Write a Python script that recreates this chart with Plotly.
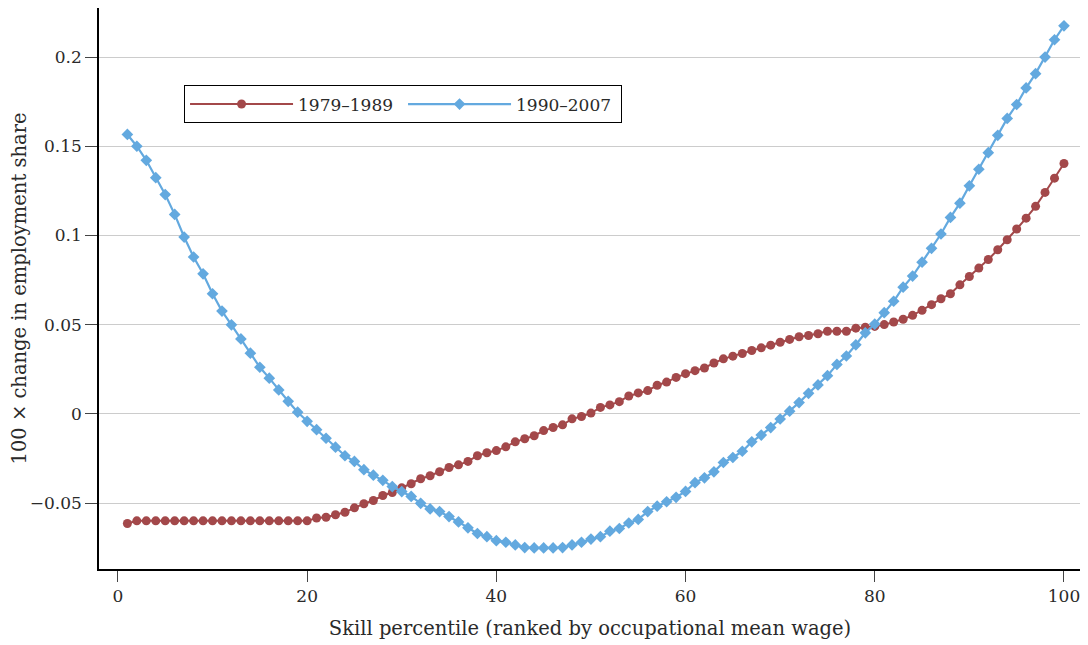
import plotly.graph_objects as go

# Skill percentiles
percentile = list(range(1, 101))

# 100 x change in employment share, 1979-1989
chg_1979_1989 = [
    -0.0615, -0.0600, -0.0600, -0.0600, -0.0600, -0.0600, -0.0600, -0.0600, -0.0600, -0.0600,
    -0.0600, -0.0600, -0.0600, -0.0600, -0.0600, -0.0600, -0.0600, -0.0600, -0.0600, -0.0600,
    -0.0584, -0.0580, -0.0566, -0.0552, -0.0527, -0.0504, -0.0486, -0.0458, -0.0441, -0.0415,
    -0.0392, -0.0364, -0.0347, -0.0325, -0.0301, -0.0286, -0.0267, -0.0235, -0.0218, -0.0206,
    -0.0185, -0.0157, -0.0140, -0.0123, -0.0094, -0.0077, -0.0062, -0.0028, -0.0015, 0.0004,
    0.0036, 0.0050, 0.0068, 0.0100, 0.0117, 0.0130, 0.0160, 0.0178, 0.0204, 0.0225,
    0.0242, 0.0257, 0.0285, 0.0308, 0.0323, 0.0338, 0.0355, 0.0370, 0.0385, 0.0401,
    0.0417, 0.0432, 0.0439, 0.0449, 0.0463, 0.0463, 0.0463, 0.0480, 0.0485, 0.0490,
    0.0500, 0.0515, 0.0530, 0.0552, 0.0580, 0.0612, 0.0645, 0.0673, 0.0723, 0.0770,
    0.0817, 0.0865, 0.0920, 0.0976, 0.1036, 0.1097, 0.1163, 0.1241, 0.1321, 0.1403,
]

# 100 x change in employment share, 1990-2007
chg_1990_2007 = [
    0.1566, 0.1500, 0.1421, 0.1324, 0.1229, 0.1118, 0.0991, 0.0879, 0.0785, 0.0673,
    0.0576, 0.0499, 0.0420, 0.0340, 0.0261, 0.0200, 0.0134, 0.0070, 0.0009, -0.0042,
    -0.0089, -0.0137, -0.0187, -0.0235, -0.0267, -0.0313, -0.0344, -0.0373, -0.0408, -0.0436,
    -0.0463, -0.0502, -0.0533, -0.0548, -0.0576, -0.0606, -0.0639, -0.0671, -0.0689, -0.0711,
    -0.0720, -0.0735, -0.0750, -0.0752, -0.0752, -0.0752, -0.0750, -0.0735, -0.0720, -0.0702,
    -0.0689, -0.0658, -0.0643, -0.0612, -0.0592, -0.0548, -0.0518, -0.0493, -0.0468, -0.0435,
    -0.0386, -0.0359, -0.0325, -0.0273, -0.0245, -0.0210, -0.0157, -0.0119, -0.0077, -0.0029,
    0.0015, 0.0063, 0.0115, 0.0162, 0.0214, 0.0277, 0.0324, 0.0387, 0.0454, 0.0503,
    0.0567, 0.0631, 0.0710, 0.0772, 0.0850, 0.0928, 0.1008, 0.1101, 0.1181, 0.1278,
    0.1371, 0.1464, 0.1561, 0.1656, 0.1734, 0.1827, 0.1907, 0.2000, 0.2097, 0.2175,
]

series_names = ["1979\u20131989", "1990\u20132007"]
y_tickvals = [-0.05, 0, 0.05, 0.1, 0.15, 0.2]
y_ticktext = ["\u22120.05", "0", "0.05", "0.1", "0.15", "0.2"]
x_tickvals = [0, 20, 40, 60, 80, 100]

RED = "#a3484a"
BLUE = "#63a9df"
FONT = "DejaVu Serif"
TXT = "#2a2a2a"

fig = go.Figure()
fig.add_trace(go.Scatter(
    x=percentile, y=chg_1979_1989, name=series_names[0], mode="lines+markers",
    line=dict(color=RED, width=2),
    marker=dict(symbol="circle", size=9, color=RED),
))
fig.add_trace(go.Scatter(
    x=percentile, y=chg_1990_2007, name=series_names[1], mode="lines+markers",
    line=dict(color=BLUE, width=2.2),
    marker=dict(symbol="diamond", size=9, color=BLUE),
))

# The page body adds an 8px offset, so the figure is 1080x637 drawn from (8, 8).
fig.update_layout(
    width=1080, height=637,
    margin=dict(l=91, r=7, t=0, b=76),
    paper_bgcolor="white", plot_bgcolor="white",
    font=dict(family=FONT, size=17, color=TXT),
    showlegend=True,
    legend=dict(
        orientation="h", x=0.0866, y=0.828, xanchor="left", yanchor="middle",
        bordercolor="black", borderwidth=1, bgcolor="white",
        font=dict(family=FONT, size=17, color=TXT),
        itemwidth=103, entrywidth=100,
    ),
    xaxis=dict(
        range=[-2.0, 101.8], tickvals=x_tickvals, automargin=False,
        showgrid=False, zeroline=False,
        showline=True, linecolor="black", linewidth=1.5,
        ticks="outside", ticklen=11, tickcolor="#444444", tickwidth=1,
        tickfont=dict(family=FONT, size=17, color=TXT),
        title=dict(text="Skill percentile (ranked by occupational mean wage)",
                   font=dict(family=FONT, size=19.5, color=TXT), standoff=16),
    ),
    yaxis=dict(
        range=[-0.087, 0.2275], tickvals=y_tickvals, ticktext=y_ticktext, automargin=False,
        showgrid=True, gridcolor="#cccccc", gridwidth=1, zeroline=False,
        showline=True, linecolor="black", linewidth=1.5,
        ticks="outside", ticklen=12, tickcolor="#444444", tickwidth=1,
        tickfont=dict(family=FONT, size=17, color=TXT),
        title=dict(text="100 \u00d7 change in employment share",
                   font=dict(family=FONT, size=19.5, color=TXT), standoff=12),
    ),
)

fig.write_html("out.html")
